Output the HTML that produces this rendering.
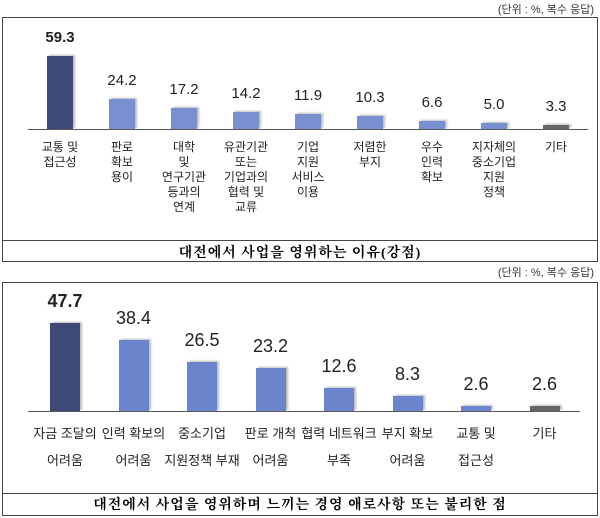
<!DOCTYPE html>
<html><head><meta charset="utf-8"><style>
body{margin:0;width:600px;height:518px;background:#fff;position:relative;font-family:"Liberation Sans","Noto Sans CJK KR",sans-serif;overflow:hidden}
.a{position:absolute}
.box{position:absolute;border:1px solid #444;box-sizing:border-box}
.bar{position:absolute;box-shadow:2px -1px 2px #bbb}
.v{position:absolute;text-align:center;color:#222}
.lab{position:absolute;text-align:center;font-size:12px;line-height:15px;color:#222;width:70px}
.title{position:absolute;text-align:center;font-family:"Liberation Serif","Noto Serif CJK SC","Noto Sans CJK KR",serif;font-weight:bold;font-size:14px;letter-spacing:1px}
.unit{position:absolute;right:6px;font-size:11px;color:#333}
</style></head><body>
<div class="unit" style="top:1px">(단위 : %, 복수 응답)</div>
<div class="box" style="left:2px;top:17px;width:596px;height:245px"></div>
<div class="a" style="left:2px;top:240px;width:596px;height:1px;background:#444"></div>
<div class="title" style="left:2px;top:242px;width:596px">대전에서 사업을 영위하는 이유(강점)</div>
<div class="a" style="left:28px;top:129px;width:560px;height:1px;background:#555"></div>
<div id="t"></div>
<div class="unit" style="top:264px">(단위 : %, 복수 응답)</div>
<div class="box" style="left:2px;top:282px;width:596px;height:234px"></div>
<div class="a" style="left:2px;top:493px;width:596px;height:1px;background:#444"></div>
<div class="title" style="left:2px;top:494px;width:596px">대전에서 사업을 영위하며 느끼는 경영 애로사항 또는 불리한 점</div>
<div class="a" style="left:28px;top:411px;width:552px;height:1px;background:#555"></div>
<div id="b"></div>
<script>
var T=[[59.3,"교통 및<br>접근성"],[24.2,"판로<br>확보<br>용이"],[17.2,"대학<br>및<br>연구기관<br>등과의<br>연계"],[14.2,"유관기관<br>또는<br>기업과의<br>협력 및<br>교류"],[11.9,"기업<br>지원<br>서비스<br>이용"],[10.3,"저렴한<br>부지"],[6.6,"우수<br>인력<br>확보"],[5.0,"지자체의<br>중소기업<br>지원<br>정책"],[3.3,"기타"]];
var h="";T.forEach(function(d,i){var c=60+i*62,ht=d[0]*1.23,col=i==0?"#3d4a78":(i==8?"#666":"#7890d0");
h+='<div class="bar" style="left:'+(c-13)+'px;top:'+(129-ht)+'px;width:26px;height:'+ht+'px;background:'+col+'"></div>';
h+='<div class="v" style="left:'+(c-30)+'px;width:60px;top:'+(129-ht-27)+'px;font-size:15px;'+(i==0?'font-weight:bold;':'')+'">'+d[0].toFixed(1)+'</div>';
h+='<div class="lab" style="left:'+(c-35)+'px;top:140px">'+d[1]+'</div>';});
document.getElementById("t").innerHTML=h;
var B=[[47.7,"자금 조달의<br>어려움"],[38.4,"인력 확보의<br>어려움"],[26.5,"중소기업<br>지원정책 부재"],[23.2,"판로 개척<br>어려움"],[12.6,"협력 네트워크<br>부족"],[8.3,"부지 확보<br>어려움"],[2.6,"교통 및<br>접근성"],[2.6,"기타"]];
h="";B.forEach(function(d,i){var c=65+i*68.5,ht=d[0]*1.85,col=i==0?"#3d4a78":(i==7?"#666":"#6a85cc");
h+='<div class="bar" style="left:'+(c-15)+'px;top:'+(411-ht)+'px;width:30px;height:'+ht+'px;background:'+col+'"></div>';
h+='<div class="v" style="left:'+(c-30)+'px;width:60px;top:'+(411-ht-32)+'px;font-size:18px;'+(i==0?'font-weight:bold;':'')+'">'+d[0].toFixed(1)+'</div>';
h+='<div class="lab" style="left:'+(c-40)+'px;width:80px;top:420px;line-height:27px;font-size:13px">'+d[1]+'</div>';});
document.getElementById("b").innerHTML=h;
</script>
</body></html>
